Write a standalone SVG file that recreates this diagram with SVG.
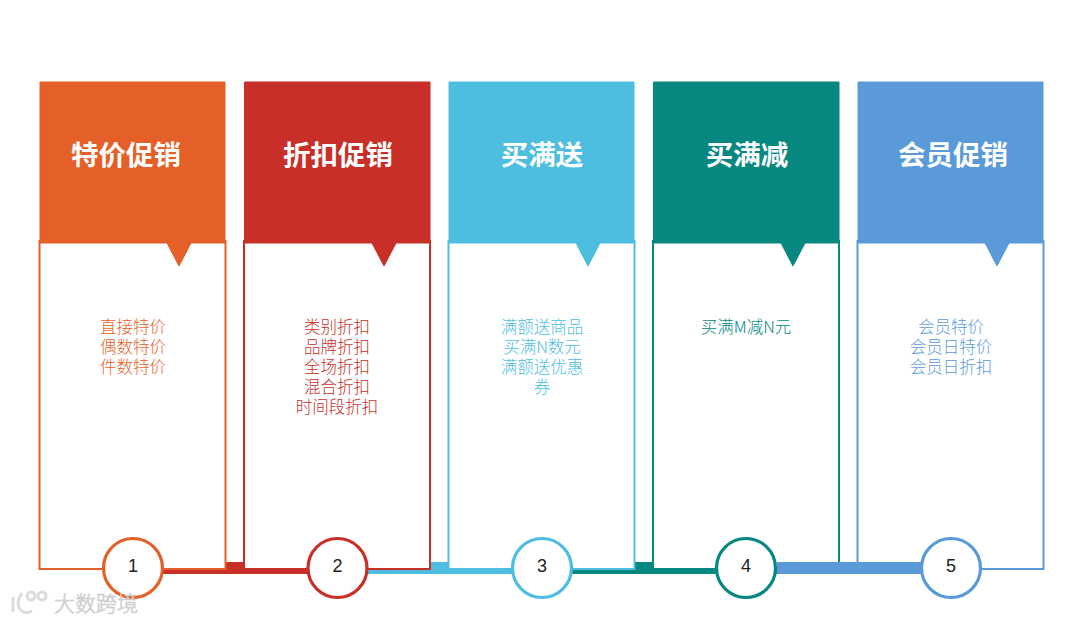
<svg xmlns="http://www.w3.org/2000/svg" width="1080" height="623" viewBox="0 0 1080 623">
<style>
text{font-family:"Liberation Sans","Noto Sans CJK SC",sans-serif;text-anchor:middle}
.t{font-family:"Noto Sans CJK SC",sans-serif;font-size:27.500px;font-weight:700;fill:#fff}
.b{font-family:"Noto Sans CJK SC","Liberation Sans",sans-serif;font-size:16.500px;font-weight:300}
.n{font-size:18px;fill:#222}
.card{fill:#fff;stroke-width:2}
.c{fill:#fff;stroke-width:3.2}
.o{fill:#e55f28;stroke:#e55f28}.r{fill:#c82f28;stroke:#c82f28}.s{fill:#4dbedf;stroke:#4dbedf}.g{fill:#068780;stroke:#068780}.u{fill:#5a9ad8;stroke:#5a9ad8}
.to{fill:#e55f28}.tr{fill:#c82f28}.ts{fill:#4dbedf}.tg{fill:#068780}.tu{fill:#5a9ad8}
</style>
<rect width="1080" height="623" fill="#fff"/>
<g id="connectors-back" stroke="none">
<rect x="163" y="562" width="205" height="12" fill="#c82f28"/>
<rect x="368" y="562" width="204" height="12" fill="#4dbedf"/>
<rect x="572" y="562" width="205" height="12" fill="#068780"/>
</g>
<g id="card1">
<rect class="card" x="39.500" y="241" width="186" height="328" stroke="#e55f28"/>
<path class="o" stroke="none" d="M40 82H225V243H191L179 266L167 243H40Z"/>
<text class="t" x="126" y="165">特价促销</text>
<text class="b to"><tspan x="133" y="333">直接特价</tspan><tspan x="133" y="353">偶数特价</tspan><tspan x="133" y="373">件数特价</tspan></text>
</g>
<g id="card2">
<rect class="card" x="244" y="241" width="186" height="328" stroke="#c82f28"/>
<path class="r" stroke="none" d="M244.500 82H430V243H396L384 266L372 243H244.500Z"/>
<text class="t" x="338" y="165">折扣促销</text>
<text class="b tr"><tspan x="337" y="333">类别折扣</tspan><tspan x="337" y="353">品牌折扣</tspan><tspan x="337" y="373">全场折扣</tspan><tspan x="337" y="393">混合折扣</tspan><tspan x="337" y="413">时间段折扣</tspan></text>
</g>
<g id="card3">
<rect class="card" x="448.500" y="241" width="186" height="328" stroke="#4dbedf"/>
<path class="s" stroke="none" d="M449 82H634V243H600L588 266L576 243H449Z"/>
<text class="t" x="542" y="165">买满送</text>
<text class="b ts"><tspan x="542" y="333">满额送商品</tspan><tspan x="542" y="353">买满N数元</tspan><tspan x="542" y="373">满额送优惠</tspan><tspan x="542" y="393">券</tspan></text>
</g>
<g id="card4">
<rect class="card" x="653" y="241" width="186" height="328" stroke="#068780"/>
<path class="g" stroke="none" d="M653.500 82H839V243H805L793 266L781 243H653.500Z"/>
<text class="t" x="747" y="165">买满减</text>
<text class="b tg" x="746" y="333">买满M减N元</text>
</g>
<g id="card5">
<rect class="card" x="857.500" y="241" width="186" height="328" stroke="#5a9ad8"/>
<path class="u" stroke="none" d="M858 82H1043V243H1009L997 266L985 243H858Z"/>
<text class="t" x="953" y="165">会员促销</text>
<text class="b tu"><tspan x="951" y="333">会员特价</tspan><tspan x="951" y="353">会员日特价</tspan><tspan x="951" y="373">会员日折扣</tspan></text>
</g>
<g id="connectors-front" stroke="none">
<rect x="777" y="562" width="145" height="12" fill="#5a9ad8"/>
</g>
<g id="marker1"><circle class="c" cx="133" cy="568" r="29.500" stroke="#e55f28"/><text class="n" x="133" y="572">1</text></g>
<g id="marker2"><circle class="c" cx="337.500" cy="568" r="29.500" stroke="#c82f28"/><text class="n" x="337.500" y="572">2</text></g>
<g id="marker3"><circle class="c" cx="542" cy="568" r="29.500" stroke="#4dbedf"/><text class="n" x="542" y="572">3</text></g>
<g id="marker4"><circle class="c" cx="746" cy="568" r="29.500" stroke="#068780"/><text class="n" x="746" y="572">4</text></g>
<g id="marker5"><circle class="c" cx="951" cy="568" r="29.500" stroke="#5a9ad8"/><text class="n" x="951" y="572">5</text></g>
<g id="watermark">
<text x="96" y="611" style="font-family:'Noto Sans CJK SC',sans-serif;font-size:21px;font-weight:300;fill:#e6e6e6;stroke:#c8c8c8;stroke-width:.6">大数跨境</text>
<g fill="none" stroke="#dcdcdc" stroke-width="3"><path d="M13 597V612M22 593C14 604 20 617 32 611"/><circle cx="31" cy="596" r="4"/><circle cx="42" cy="596" r="4"/></g>
</g>
</svg>
